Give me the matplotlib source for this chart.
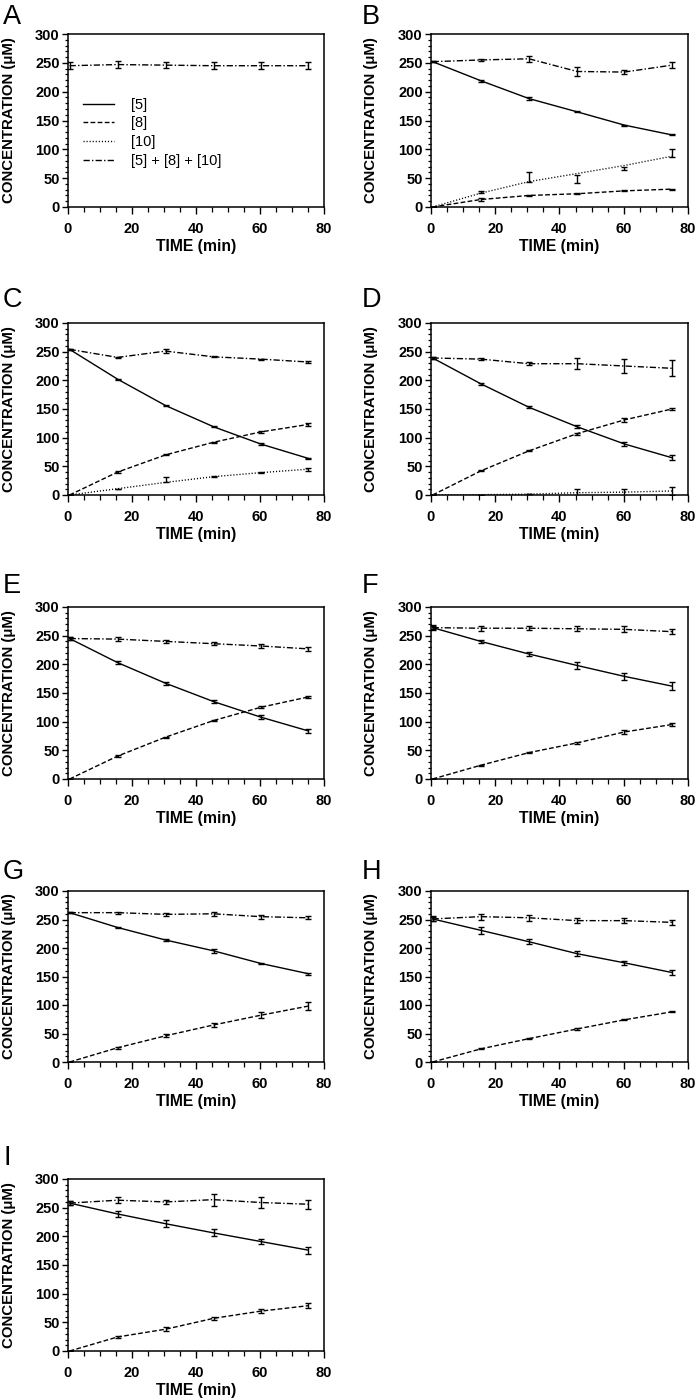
import matplotlib
matplotlib.use("Agg")
import matplotlib.pyplot as plt
from matplotlib.ticker import MultipleLocator
from matplotlib.lines import Line2D

plt.rcParams['font.family'] = ['Liberation Sans', 'DejaVu Sans']
plt.rcParams['lines.scale_dashes'] = False

# ---------------- data ----------------
time = [0.5, 15.5, 30.5, 45.5, 60.2, 75]

A_sum = [245, 247, 246, 245, 245, 245]
A_sum_err = [6, 6, 5, 6, 6, 6]

B_5 = [252, 219, 188, 165, 142, 125]
B_5_err = [1, 2, 2, 1, 1, 1]
B_8 = [0, 13, 20, 23, 28, 31]
B_8_err = [0, 2, 1, 1, 1, 1]
B_10 = [0, 26, 52, 49, 67, 93]
B_10_err = [0, 2.5, 8, 7, 2, 7]
B_10_fit = [0, 24, 44, 58, 72, 88]
B_sum = [252, 255, 257, 235, 234, 246]
B_sum_err = [1, 1, 5.5, 7, 3, 5]

C_5 = [254, 202, 156, 119, 89, 64]
C_5_err = [1, 1, 1, 1, 1, 1]
C_8 = [0, 40, 70, 92, 110, 123]
C_8_err = [0, 1, 1, 1, 2, 2]
C_10 = [0, 11, 27, 32, 39, 45]
C_10_err = [0, 0, 5, 1, 1, 2.5]
C_10_fit = [0, 11, 22, 32, 39, 45]
C_sum = [254, 240, 251, 241, 237, 232]
C_sum_err = [1, 1.5, 4, 1, 1, 2]

D_5 = [239, 194, 153, 119, 89, 65]
D_5_err = [1, 2, 2, 3, 3, 4]
D_8 = [0, 42, 77, 107, 131, 150]
D_8_err = [0, 1, 1, 2, 3, 2]
D_10 = [0, 0.5, 1.5, 4, 5, 7]
D_10_err = [0, 0, 0, 6, 6, 7]
D_sum = [239, 237, 229, 229, 225, 221]
D_sum_err = [1, 2, 3, 10, 12, 14]

E_5 = [245, 203, 167, 135, 108, 84]
E_5_err = [3, 3, 3, 3, 3, 3]
E_8 = [0, 40, 73, 102, 125, 143]
E_8_err = [0, 1, 1, 1, 2, 2]
E_sum = [245, 244, 240, 236, 232, 227]
E_sum_err = [3, 4, 3, 3, 4, 3.5]

F_5 = [264, 240, 218, 198, 179, 162]
F_5_err = [3, 2, 4, 5.5, 6.5, 6.5]
F_8 = [0, 24, 46, 63, 82, 95]
F_8_err = [0, 1, 1, 2, 3, 3]
F_sum = [264, 263, 263, 262, 261, 257]
F_sum_err = [4, 4, 3, 4, 5, 4]

G_5 = [262, 236, 214, 195, 173, 155]
G_5_err = [1, 1, 1, 3.5, 1, 2]
G_8 = [0, 25, 46, 65, 82, 98]
G_8_err = [0, 2, 3, 3.5, 5.5, 6.5]
G_sum = [262, 262, 259, 260, 255, 253]
G_sum_err = [1, 2, 2.5, 4, 3.5, 2.5]

H_5 = [251, 231, 211, 190, 174, 157]
H_5_err = [4, 6, 4.5, 4.5, 4, 4]
H_8 = [0, 23, 41, 58, 74, 88]
H_8_err = [0, 1, 1, 1, 1, 1]
H_sum = [251, 255, 253, 248, 248, 245]
H_sum_err = [4.5, 5, 5, 5, 4, 5]

I_5 = [258, 239, 222, 206, 191, 176]
I_5_err = [4, 5, 6, 6, 5, 6]
I_8 = [0, 24.5, 38, 57, 69.5, 79]
I_8_err = [0, 2, 3, 3, 3, 4]
I_sum = [258, 263, 260, 264, 259, 256]
I_sum_err = [4, 5, 4, 10.5, 9, 8]

panel_letters = ["A", "B", "C", "D", "E", "F", "G", "H", "I"]
legend_labels = ["[5]", "[8]", "[10]", "[5] + [8] + [10]"]
x_label = "TIME (min)"
y_label = "CONCENTRATION (\u03bcM)"

# ---------------- styles ----------------
STY = {
    "5": dict(linestyle="-"),
    "8": dict(linestyle=(0, (3.4, 1.7))),
    "10": dict(linestyle=(0, (0.8, 1.4))),
    "sum": dict(linestyle=(0, (4.5, 1.6, 1.0, 1.6))),
}
LW = 1.0

panels = {
    "A": [("sum", A_sum, A_sum_err, None)],
    "B": [("5", B_5, B_5_err, None), ("8", B_8, B_8_err, None),
          ("10", B_10, B_10_err, B_10_fit), ("sum", B_sum, B_sum_err, None)],
    "C": [("5", C_5, C_5_err, None), ("8", C_8, C_8_err, None),
          ("10", C_10, C_10_err, C_10_fit), ("sum", C_sum, C_sum_err, None)],
    "D": [("5", D_5, D_5_err, None), ("8", D_8, D_8_err, None),
          ("10", D_10, D_10_err, None), ("sum", D_sum, D_sum_err, None)],
    "E": [("5", E_5, E_5_err, None), ("8", E_8, E_8_err, None),
          ("sum", E_sum, E_sum_err, None)],
    "F": [("5", F_5, F_5_err, None), ("8", F_8, F_8_err, None),
          ("sum", F_sum, F_sum_err, None)],
    "G": [("5", G_5, G_5_err, None), ("8", G_8, G_8_err, None),
          ("sum", G_sum, G_sum_err, None)],
    "H": [("5", H_5, H_5_err, None), ("8", H_8, H_8_err, None),
          ("sum", H_sum, H_sum_err, None)],
    "I": [("5", I_5, I_5_err, None), ("8", I_8, I_8_err, None),
          ("sum", I_sum, I_sum_err, None)],
}

W, H = 696, 1398
fig = plt.figure(figsize=(W / 100, H / 100), dpi=100)

col_x = [(68, 324), (431, 688)]
row_y = [(34, 207), (323, 495), (607, 779), (891, 1062), (1179, 1351)]
letter_x = [3, 362]
letter_base = [24, 307, 593, 879, 1165]

for i, key in enumerate(panel_letters):
    r, c = divmod(i, 2)
    x0, x1 = col_x[c]
    y0, y1 = row_y[r]
    ax = fig.add_axes([x0 / W, 1 - y1 / H, (x1 - x0) / W, (y1 - y0) / H])
    for name, mean, err, fit in panels[key]:
        line = fit if fit is not None else mean
        ax.plot(time, line, color="black", lw=LW, **STY[name])
        ax.errorbar(time, mean, yerr=err, fmt="none", ecolor="black",
                    elinewidth=1.0, capsize=2.0, capthick=1.0)
    ax.set_xlim(0, 80)
    ax.set_ylim(0, 300)
    ax.xaxis.set_major_locator(MultipleLocator(20))
    ax.xaxis.set_minor_locator(MultipleLocator(5))
    ax.yaxis.set_major_locator(MultipleLocator(50))
    ax.yaxis.set_minor_locator(MultipleLocator(10))
    ax.tick_params(axis="x", which="major", direction="out", length=5, width=1.0,
                   pad=5.5, labelsize=10.5)
    ax.tick_params(axis="x", which="minor", direction="out", length=3.5, width=0.9)
    ax.tick_params(axis="y", which="major", direction="out", length=4.5, width=1.0,
                   pad=1.5, labelsize=10.5)
    ax.tick_params(axis="y", which="minor", direction="out", length=2.3, width=0.9)
    for lab in ax.get_xticklabels() + ax.get_yticklabels():
        lab.set_fontweight("bold")
    for sp in ax.spines.values():
        sp.set_linewidth(1.1)
    ax.set_xlabel(x_label, fontsize=11.3, fontweight="bold")
    ax.set_ylabel(y_label, fontsize=10.8, fontweight="bold")
    ax.xaxis.set_label_coords(0.5, -0.185)
    ax.yaxis.set_label_coords(-0.205, 0.5)

    fig.text(letter_x[c] / W, 1 - letter_base[r] / H, key, fontsize=19.5,
             ha="left", va="baseline")

    if key == "A":
        handles = [Line2D([], [], color="black", lw=LW, **STY[n])
                   for n in ["5", "8", "10", "sum"]]
        ax.legend(handles, legend_labels, loc="upper left",
                  bbox_to_anchor=(0.037, 0.665), borderaxespad=0, frameon=False,
                  fontsize=10.5, handlelength=2.1, handletextpad=1.2,
                  labelspacing=0.32)

fig.savefig("out.png", dpi=100)
